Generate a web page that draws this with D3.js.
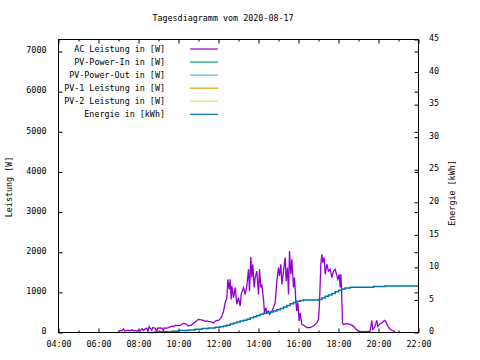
<!DOCTYPE html>
<html>
<head>
<meta charset="utf-8">
<script src="https://cdn.jsdelivr.net/npm/d3@7"></script>
<style>
  html, body { margin: 0; padding: 0; background: #fff; }
  svg { display: block; }
  text { font-family: "DejaVu Sans Mono", "Liberation Mono", monospace; font-size: 8.4px; fill: #000; }
</style>
</head>
<body>
<svg id="chart" width="480" height="360"></svg>
<script>
// ---------- data ----------
const chartTitle = "Tagesdiagramm vom 2020-08-17";
const yLeftLabel = "Leistung [W]";
const yRightLabel = "Energie [kWh]";

const xTickLabels = ["04:00","06:00","08:00","10:00","12:00","14:00","16:00","18:00","20:00","22:00"];
const xMinorHours = ["05:00","07:00","09:00","11:00","13:00","15:00","17:00","19:00","21:00"];
const yLeftTicks = [0,1000,2000,3000,4000,5000,6000,7000];
const yRightTicks = [0,5,10,15,20,25,30,35,40,45];

const seriesNames = ["AC Leistung in [W]","PV-Power-In in [W]","PV-Power-Out in [W]","PV-1 Leistung in [W]","PV-2 Leistung in [W]","Energie in [kWh]"];
const seriesColors = ["#9400d3","#009e73","#56b4e9","#e69f00","#f0e442","#0072b2"];

const acTime = ["07:00","07:05","07:10","07:15","07:18","07:25","07:30","07:35","07:40","07:45","07:50","07:55","08:00","08:05","08:10","08:15","08:20","08:25","08:28","08:32","08:35","08:40","08:42","08:50","08:55","08:57","09:05","09:10","09:15","09:17","09:25","09:30","09:35","09:40","09:45","09:50","09:55","10:00","10:05","10:10","10:15","10:20","10:25","10:30","10:35","10:40","10:45","10:50","10:55","11:00","11:05","11:10","11:15","11:20","11:25","11:30","11:35","11:40","11:45","11:50","11:55","12:00","12:05","12:10",
"12:15","12:20","12:25","12:28","12:32","12:35","12:38","12:40","12:45","12:50","12:55","13:00","13:05","13:08","13:15","13:20","13:25","13:30","13:33","13:37","13:40","13:43","13:47","13:50","13:55","14:00","14:03","14:07","14:10","14:15","14:18","14:22","14:25","14:30","14:33","14:40","14:45","14:50",
"14:55","15:00","15:03","15:07","15:10","15:15","15:20","15:23","15:27","15:30","15:33","15:37","15:40","15:45","15:48","15:52","15:55","15:58","16:02","16:05","16:10","16:15","16:20","16:25","16:35","16:45","16:55","17:00","17:03","17:07","17:10","17:13","17:17","17:20","17:25","17:30","17:35","17:40","17:45","17:50",
"17:58","18:02","18:05","18:07","18:09","18:12","18:15","18:25","18:35","18:45","18:50","19:00","19:10","19:25","19:35","19:40","19:43","19:48","19:55","19:58","20:05","20:10","20:18","20:22","20:28","20:35","20:42","20:50"];
const acPower = [30,50,40,90,40,50,60,40,70,40,50,30,60,40,100,50,90,110,30,150,110,60,120,110,30,110,115,110,50,115,110,120,140,160,150,180,170,170,175,210,225,220,200,160,180,190,230,255,300,325,320,310,300,280,290,275,270,260,240,280,300,300,340,400,
530,740,865,1325,1075,1325,825,1160,865,1125,700,865,660,950,1120,950,1160,1575,1030,1880,1370,1700,1120,1370,1530,950,1575,1120,1200,825,490,620,490,530,450,530,620,740,
1280,1620,1410,1700,1200,1530,1870,1280,1620,950,2030,1450,1825,1120,1370,780,530,740,280,490,200,180,160,120,120,160,240,325,740,1700,1950,1740,1870,1450,1700,1530,1575,1370,1530,1575,
1325,1450,1120,1450,1120,240,200,220,200,160,100,35,20,20,35,300,75,125,300,150,220,240,300,270,160,75,50,20];

const pvPowerIn = [];
const pvPowerOut = [];
const pv1Power = [];
const pv2Power = [];

const energyTime = ["08:25","08:50","09:40","10:00","10:30","10:50","11:10","11:30","11:50","12:05","12:15","12:25","12:35","12:45","12:55","13:05","13:15","13:25","13:35","13:45","13:55","14:05","14:15","14:25","14:35","14:45","14:55","15:05","15:15","15:25","15:35","15:45","15:55","16:05","16:15","17:00","17:10","17:20","17:30","17:40","17:50","18:00","18:10","18:20","18:35","19:45","20:20","22:00"];
const energyKWh = [0.0,0.1,0.2,0.3,0.4,0.5,0.6,0.7,0.8,0.9,1.0,1.1,1.3,1.45,1.6,1.75,1.9,2.05,2.25,2.4,2.6,2.8,2.95,3.05,3.15,3.3,3.5,3.7,3.9,4.15,4.4,4.6,4.8,4.9,5.0,5.05,5.3,5.55,5.75,6.0,6.25,6.5,6.7,6.85,6.95,7.05,7.15,7.15];

// ---------- helpers ----------
const toMin = s => { const [h, m] = s.split(":").map(Number); return h * 60 + m; };

const svg = d3.select("#chart");
const L = 58.5, R = 418.5, T = 39.5, B = 332.5;

const x = d3.scaleLinear().domain([toMin("04:00"), toMin("22:00")]).range([L, R]);
const yL = d3.scaleLinear().domain([0, 7300]).range([B, T]);
const yR = d3.scaleLinear().domain([0, 45]).range([B, T]);

const noDomain = g => g.select(".domain").remove();
const blackTicks = g => g.selectAll(".tick line").attr("stroke", "#000");

// title
svg.append("text").attr("x", 223).attr("y", 20.5).attr("text-anchor", "middle").text(chartTitle);

// axes
const majorX = xTickLabels.map(toMin), minorX = xMinorHours.map(toMin);
svg.append("g").attr("transform", `translate(0,${B})`)
  .call(d3.axisBottom(x).tickValues(majorX).tickSize(-4).tickPadding(8.5).tickFormat((d, i) => xTickLabels[i]))
  .call(noDomain).call(blackTicks)
  .selectAll("text").attr("font-family", null).attr("font-size", null);
svg.append("g").attr("transform", `translate(0,${B})`)
  .call(d3.axisBottom(x).tickValues(minorX).tickSize(-2).tickFormat(""))
  .call(noDomain).call(blackTicks);
svg.append("g").attr("transform", `translate(0,${T})`)
  .call(d3.axisTop(x).tickValues(majorX).tickSize(-4).tickFormat(""))
  .call(noDomain).call(blackTicks);
svg.append("g").attr("transform", `translate(0,${T})`)
  .call(d3.axisTop(x).tickValues(minorX).tickSize(-2).tickFormat(""))
  .call(noDomain).call(blackTicks);

svg.append("g").attr("transform", `translate(${L},0)`)
  .call(d3.axisLeft(yL).tickValues(yLeftTicks).tickSize(-4).tickPadding(12).tickFormat(d3.format("d")))
  .call(noDomain).call(blackTicks)
  .selectAll("text").attr("dy", "0.15em").attr("font-family", null).attr("font-size", null);
svg.append("g").attr("transform", `translate(${R},0)`)
  .call(d3.axisRight(yL).tickValues(yLeftTicks.slice(1)).tickSize(-4).tickFormat(""))
  .call(noDomain).call(blackTicks);
svg.append("g").attr("transform", `translate(${R},0)`)
  .call(d3.axisRight(yR).tickValues(yRightTicks).tickSize(-4).tickPadding(10.5).tickFormat(d3.format("d")))
  .call(noDomain).call(blackTicks)
  .selectAll("text").attr("dy", "0.15em").attr("font-family", null).attr("font-size", null);

// axis titles
svg.append("text").attr("transform", `translate(12,187) rotate(-90)`).attr("text-anchor", "middle").text(yLeftLabel);
svg.append("text").attr("transform", `translate(455,193) rotate(-90)`).attr("text-anchor", "middle").text(yRightLabel);

// series
const powerLine = d3.line().x(d => x(toMin(d[0]))).y(d => yL(d[1]));
const acData = acTime.map((t, i) => [t, acPower[i]]);
[pvPowerIn, pvPowerOut, pv1Power, pv2Power].forEach((arr, k) => {
  if (arr.length) svg.append("path").datum(arr).attr("fill", "none").attr("stroke", seriesColors[k + 1]).attr("stroke-width", 1.2).attr("d", powerLine);
});
svg.append("path").datum(acData).attr("fill", "none").attr("stroke", seriesColors[0])
  .attr("stroke-width", 1.3).attr("stroke-linejoin", "miter").attr("d", powerLine);

const energyLine = d3.line().curve(d3.curveStepAfter).x(d => x(toMin(d[0]))).y(d => yR(d[1]));
const energyData = energyTime.map((t, i) => [t, energyKWh[i]]);
svg.append("path").datum(energyData).attr("fill", "none").attr("stroke", seriesColors[5])
  .attr("stroke-width", 1.5).attr("d", energyLine);

// frame
svg.append("rect").attr("x", L).attr("y", T).attr("width", R - L).attr("height", B - T)
  .attr("fill", "none").attr("stroke", "#000").attr("stroke-width", 1);

// legend
const leg = svg.append("g");
seriesNames.forEach((name, i) => {
  const ly = 49 + i * 13.06;
  leg.append("text").attr("x", 165).attr("y", ly + 2.5).attr("text-anchor", "end").text(name);
  leg.append("line").attr("x1", 190).attr("x2", 218).attr("y1", ly).attr("y2", ly)
    .attr("stroke", seriesColors[i]).attr("stroke-width", 1.2);
});
</script>
</body>
</html>
